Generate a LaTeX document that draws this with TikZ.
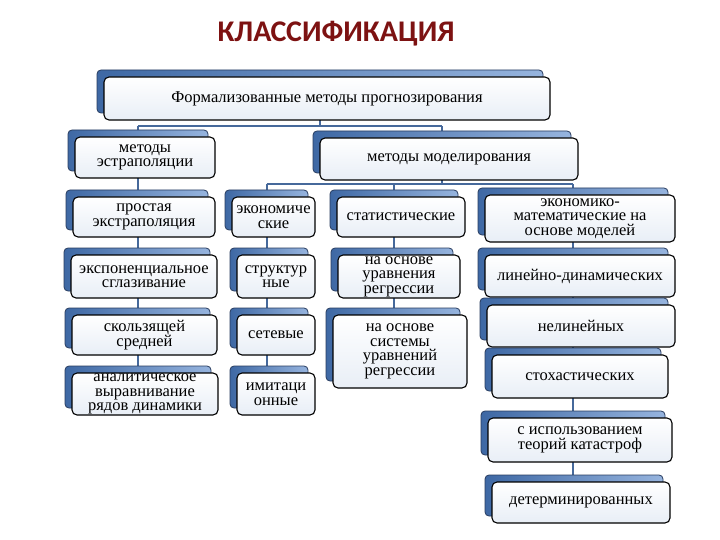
\documentclass[tikz,border=0pt]{standalone}
\usepackage{fontspec}
\setmainfont{Liberation Serif}
\newfontfamily\boxfont{Liberation Serif}
\newfontfamily\titlefont{Carlito}
\usetikzlibrary{calc}
\definecolor{titlered}{RGB}{125,18,18}
\definecolor{backdark}{RGB}{62,104,164}
\definecolor{backlight}{RGB}{150,180,222}
\definecolor{backline}{RGB}{40,60,95}
\definecolor{connblue}{RGB}{70,105,155}
\definecolor{frontbot}{RGB}{232,238,246}
\pgfdeclarelayer{bg}
\pgfsetlayers{bg,main}
\tikzset{
  backbox/.style={draw=backline,line width=0.8pt,rounded corners=4pt,left color=backdark,right color=backlight,inner sep=0pt},
  frontbox/.style={draw=black,line width=1.1pt,rounded corners=5pt,top color=white,bottom color=frontbot,inner sep=0pt,align=center,font=\boxfont\fontsize{16.5}{14.6}\selectfont},
  conn/.style={draw=connblue,line width=2pt},
  titlestyle/.style={text=titlered,font=\titlefont\bfseries\fontsize{30}{30}\selectfont,inner sep=0pt}
}
\newcommand\mybox[6]{%
  \pgfmathsetmacro\mybw{#4-#2}%
  \pgfmathsetmacro\mybh{#5-#3}%
  \pgfmathsetmacro\mycx{(#2+#4)/2}%
  \pgfmathsetmacro\mycy{(#3+#5)/2}%
  \node[backbox,minimum width=\mybw pt,minimum height=\mybh pt] (#1b) at (\mycx-7,\mycy-7) {};
  \node[frontbox,minimum width=\mybw pt,minimum height=\mybh pt] (#1) at (\mycx,\mycy) {#6};
}
\begin{document}
\begin{tikzpicture}[x=1pt,y=-1pt]
\begin{pgfonlayer}{bg}
\fill[white] (0,0) rectangle (720,540);
\end{pgfonlayer}
\useasboundingbox (0,0) rectangle (720,540);
\node[titlestyle] (title) at (336,34) {КЛАССИФИКАЦИЯ};
\mybox{T}{104}{77}{550}{120}{Формализованные методы прогнозирования}
\mybox{E}{75}{137}{215}{178}{методы\\эстраполяции}
\mybox{M}{320}{138}{578}{180}{методы моделирования}
\mybox{P}{73}{197}{215}{237}{простая\\экстраполяция}
\mybox{Ex}{71}{255}{217}{298}{экспоненциальное\\сглазивание}
\mybox{S}{72}{315}{217}{355}{скользящей\\средней}
\mybox{A}{72}{373}{218}{415}{аналитическое\\выравнивание\\рядов динамики}
\mybox{Ec}{232}{197}{315}{237}{экономиче\\ские}
\mybox{St}{237}{255}{315}{298}{структур\\ные}
\mybox{Se}{237}{315}{315}{355}{сетевые}
\mybox{Im}{237}{373}{315}{415}{имитаци\\онные}
\mybox{Sta}{337}{197}{465}{237}{статистические}
\mybox{Ra}{338}{255}{460}{298}{на основе\\уравнения\\регрессии}
\mybox{Rb}{333}{315}{467}{388}{на основе\\системы\\уравнений\\регрессии}
\mybox{EM}{485}{195}{675}{242}{экономико-\\математические на\\основе моделей}
\mybox{L}{485}{255}{675}{297}{линейно-динамических}
\mybox{N}{487}{305}{675}{347}{нелинейных}
\mybox{Sx}{492}{355}{668}{398}{стохастических}
\mybox{K}{488}{418}{672}{462}{с использованием\\теорий катастроф}
\mybox{D}{492}{482}{670}{523}{детерминированных}
\coordinate (j1) at (320,126);
\coordinate (j2) at (442,184);
\begin{pgfonlayer}{bg}
\draw[conn] (Tb.center) -- (Tb.center |- j1);
\draw[conn] (Eb.center |- j1) -- (Mb.center |- j1);
\draw[conn] (Eb.center |- j1) -- (Eb.center);
\draw[conn] (Mb.center |- j1) -- (Mb.center);
\draw[conn] (Eb.center) -- (Eb.center |- Ab.center);
\draw[conn] (Mb.center) -- (Mb.center |- j2);
\draw[conn] (Ecb.center |- j2) -- (EMb.center |- j2);
\draw[conn] (Ecb.center |- j2) -- (Ecb.center |- Imb.center);
\draw[conn] (Stab.center |- j2) -- (Stab.center |- Rbb.center);
\draw[conn] (EMb.center |- j2) -- (EMb.center |- Db.center);
\end{pgfonlayer}
\end{tikzpicture}
\end{document}
